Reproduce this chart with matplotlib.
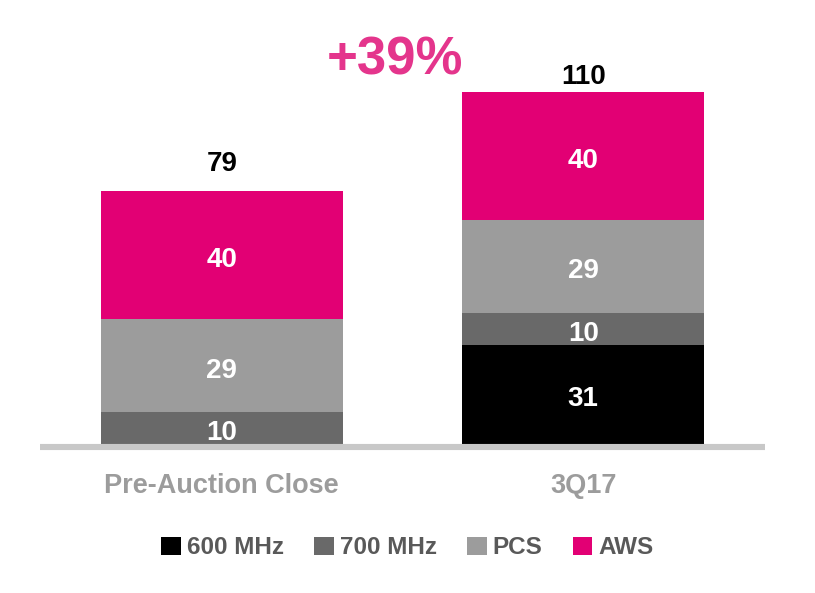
import numpy as np
import matplotlib.pyplot as plt
from matplotlib.patches import Patch

plt.rcParams['font.family'] = ['Liberation Sans Narrow', 'Liberation Sans', 'DejaVu Sans']
plt.rcParams['font.weight'] = 'bold'

categories = ["Pre-Auction Close", "3Q17"]
series = ["600 MHz", "700 MHz", "PCS", "AWS"]
values = {
    "600 MHz": [0, 31],
    "700 MHz": [10, 10],
    "PCS": [29, 29],
    "AWS": [40, 40],
}
totals = [79, 110]
growth_label = "+39%"

colors = {"600 MHz": "#000000", "700 MHz": "#696969", "PCS": "#9c9c9c", "AWS": "#e20074"}

fig = plt.figure(figsize=(8.15, 5.93), dpi=100)
ax = fig.add_axes([40 / 815, 0.2351, 725 / 815, 0.7649])

x = np.arange(len(categories))
bottom = np.zeros(len(categories))
for s in series:
    v = np.array(values[s], dtype=float)
    ax.bar(x, v, bottom=bottom, width=0.67, color=colors[s], zorder=2)
    for xi, vi, bi in zip(x, v, bottom):
        if vi > 0:
            ax.text(xi, bi + vi / 2 - 0.6, f"{vi:.0f}", ha="center", va="center_baseline",
                    color="white", fontsize=20, fontweight="bold", zorder=3)
    bottom += v

# totals above bars
offsets = [9.5, 5.5]
for xi, t, off in zip(x, totals, offsets):
    ax.text(xi, t + off, str(t), ha="center", va="center_baseline", color="black",
            fontsize=20, fontweight="bold")

ax.text(0.478, 121.5, growth_label, ha="center", va="center_baseline", color="#e4358c",
        fontsize=38, fontweight="bold")

ax.axhline(-0.95, color="#c8c8c8", lw=4.4, zorder=4)

ax.set_xlim(-0.503, 1.503)
ax.set_ylim(-3, 138.75)
ax.set_xticks(x)
ax.set_xticklabels(categories, fontsize=19.5, color="#9c9c9c", fontweight="bold")
ax.tick_params(axis="x", length=0, pad=14)
ax.set_yticks([])
for sp in ax.spines.values():
    sp.set_visible(False)

handles = [Patch(facecolor=colors[s], edgecolor="none") for s in series]
fig.legend(handles, series, loc="center", bbox_to_anchor=(0.500, 0.076), ncol=4,
           frameon=False, fontsize=17.5, handlelength=0.8, handleheight=0.8,
           handletextpad=0.25, columnspacing=1.25, labelcolor="#595959")

fig.savefig("out.png", dpi=100)
